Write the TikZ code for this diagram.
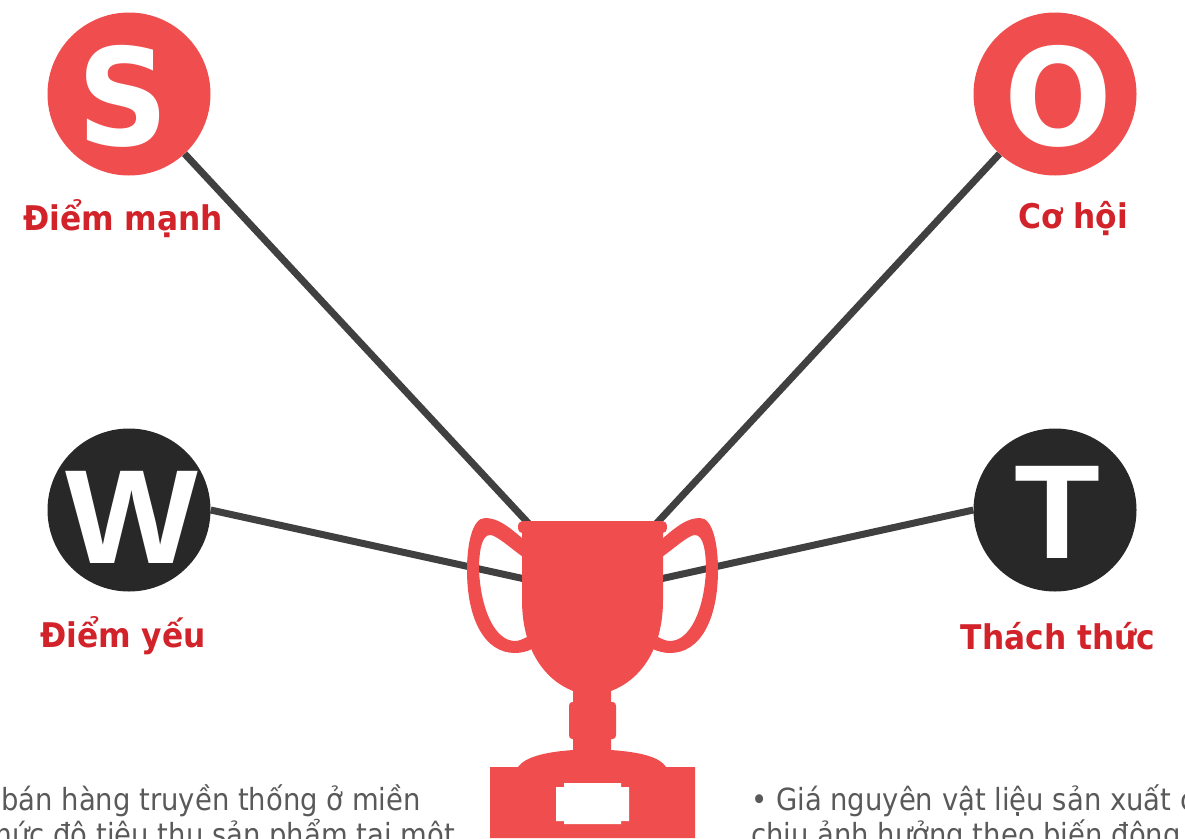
\documentclass[tikz,border=0pt]{standalone}
\usepackage{fontspec}
\setmainfont{DejaVu Sans}
\newfontfamily\capfont[FakeStretch=0.92]{DejaVu Sans}
\newfontfamily\bodyfont[FakeStretch=0.9]{DejaVu Sans}
\newfontfamily\bigfont[FakeStretch=0.94]{DejaVu Sans}
\newfontfamily\letfont[FakeStretch=1.05]{Liberation Sans}
\definecolor{trophyred}{HTML}{F04E4E}
\definecolor{darkdisc}{HTML}{282828}
\definecolor{linegray}{HTML}{404040}
\definecolor{labelred}{HTML}{D2232A}
\definecolor{bodygray}{HTML}{595959}
\tikzset{
  redfill/.style={fill=trophyred,draw=none},
  spoke/.style={draw=linegray,line width=7pt},
  redcircle/.style={circle,fill=trophyred,minimum size=163pt,inner sep=0pt,text=white},
  darkcircle/.style={circle,fill=darkdisc,minimum size=163pt,inner sep=0pt,text=white},
  biglet/.style={text=white,inner sep=0pt,font=\bigfont\fontsize{135}{135}\selectfont\bfseries},
  widelet/.style={text=white,inner sep=0pt,font=\letfont\fontsize{134}{134}\selectfont\bfseries},
  caption/.style={text=labelred,font=\capfont\fontsize{34}{38}\selectfont\bfseries,inner sep=0pt},
  bodytext/.style={text=bodygray,font=\bodyfont\fontsize{30.5}{35}\selectfont,inner sep=0pt}
}
\begin{document}
\begin{tikzpicture}[x=1pt,y=-1pt]
\useasboundingbox (0,0) rectangle (1185,838);
\clip (0,0) rectangle (1185,838);
\coordinate (cupTL) at (530,525);
\coordinate (cupTR) at (655,525);
\coordinate (cupL) at (525,579);
\coordinate (cupR) at (660,579);
\node[redcircle] (S) at (129,94) {};
\node[redcircle] (O) at (1055,94) {};
\node[darkcircle] (W) at (129,510) {};
\node[darkcircle] (T) at (1055,510) {};
\draw[spoke] (S) -- (cupTL);
\draw[spoke] (O) -- (cupTR);
\draw[spoke] (W.east) -- (cupL);
\draw[spoke] (T.west) -- (cupR);
\node[biglet,anchor=base] (sl) at (123,145) {S};
\node[biglet,anchor=base] (ol) at (1058,145) {O};
\node[widelet,anchor=base] (wl) at (132,563) {W};
\node[widelet,anchor=base] (tl) at (1057,558) {T};
\node[caption] (c1) at (123,219) {Điểm mạnh};
\node[caption] (c2) at (1073,219) {Cơ hội};
\node[caption] (c3) at (123,636) {Điểm yếu};
\node[caption] (c4) at (1058,636) {Thách thức};
% trophy
\path[redfill] (518,527) .. controls (518,523) and (520,521) .. (523,521) -- (662,521)
  .. controls (665,521) and (667,523) .. (667,527) .. controls (667,531) and (665,533) .. (663,533)
  -- (663,600) .. controls (663,650) and (640,680) .. (611,691) -- (611,702) -- (613,702) .. controls (615,702) and (616,704) .. (616,706)
  -- (616,735) .. controls (616,737) and (615,739) .. (613,739) -- (611,739) -- (611,750)
  .. controls (640,752) and (660,757) .. (666,767) -- (695,767) -- (695,838) -- (490,838) -- (490,767) -- (518,767)
  .. controls (525,757) and (545,752) .. (573,750) -- (573,739) -- (572,739) .. controls (570,739) and (569,737) .. (569,735)
  -- (569,706) .. controls (569,704) and (570,702) .. (572,702) -- (573,702) -- (573,691)
  .. controls (545,680) and (522,650) .. (522,600) -- (522,533) .. controls (520,533) and (518,531) .. (518,527) -- cycle;
\foreach \sx/\ox in {1/0,-1/1185}{
\begin{scope}[xshift=\ox pt,xscale=\sx]
\path[redfill] (523,539) .. controls (507,525) and (497,518) .. (485,518)
  .. controls (472,518) and (467,545) .. (467,570)
  .. controls (467,620) and (485,653) .. (515,653)
  .. controls (522,653) and (528,651) .. (532,649)
  -- (527,637) .. controls (523,639) and (519,641) .. (515,641)
  .. controls (496,641) and (481,612) .. (479,570)
  .. controls (479,550) and (482,535) .. (490,535)
  .. controls (496,535) and (508,546) .. (523,557) -- cycle;
\end{scope}}
\path[fill=white] (556,787) -- (564,787) -- (564,783) -- (621,783) -- (621,787) -- (629,787) -- (629,821) -- (621,821) -- (621,824) -- (564,824) -- (564,821) -- (556,821) -- cycle;
\node[bodytext,anchor=base east] (l1) at (421,810) {bán hàng truyền thống ở miền};
\node[bodytext,anchor=base east] (l2) at (455,845) {mức độ tiêu thụ sản phẩm tại một};
\node[bodytext,anchor=base west] (r1) at (751,810) {• Giá nguyên vật liệu sản xuất c};
\node[bodytext,anchor=base west] (r2) at (751,845) {chịu ảnh hưởng theo biến động};
\end{tikzpicture}
\end{document}
